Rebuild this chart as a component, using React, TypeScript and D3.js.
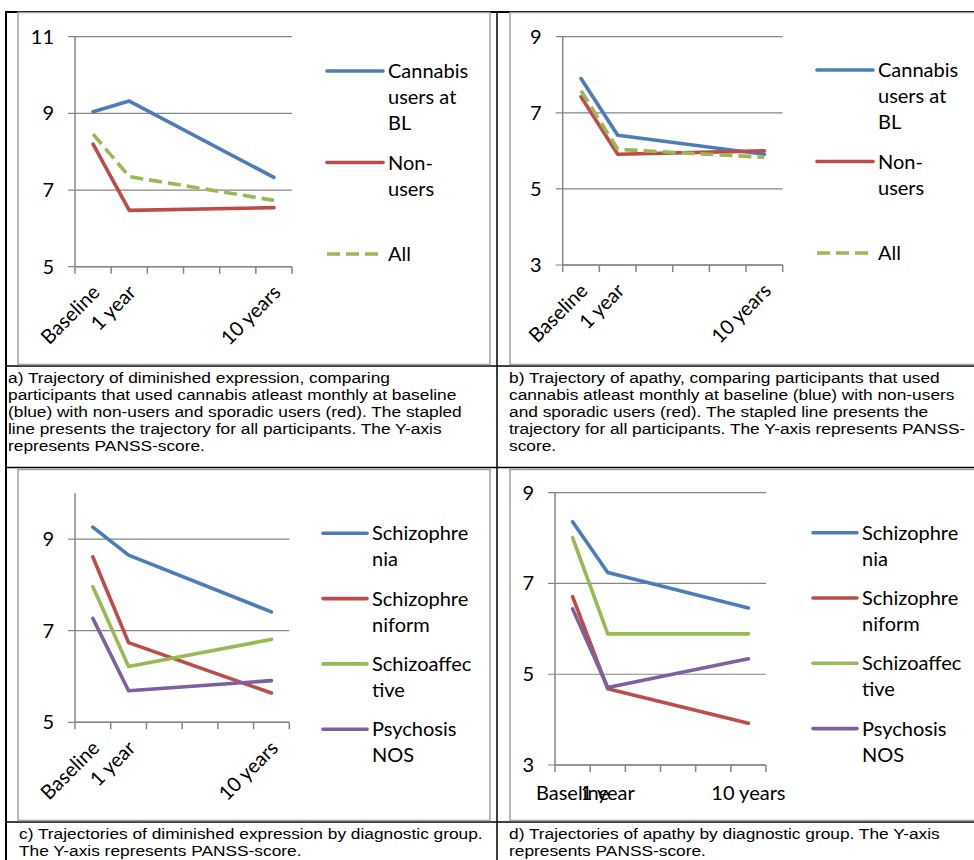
import React from 'react';
import * as d3 from 'd3';

// category slots on the x axis (Excel leaves the middle years empty)
const periods = ['Baseline', '1 year', '', '', '', '10 years'];

// a) diminished expression, cannabis users vs non-users
const cannabisExpression = [9.04, 9.32, null, null, null, 7.33];
const nonUsersExpression = [8.2, 6.47, null, null, null, 6.54];
const allExpression = [8.46, 7.35, null, null, null, 6.73];

// b) apathy, cannabis users vs non-users
const cannabisApathy = [7.9, 6.41, null, null, null, 5.91];
const nonUsersApathy = [7.42, 5.91, null, null, null, 6.0];
const allApathy = [7.58, 6.04, null, null, null, 5.83];

// c) diminished expression by diagnostic group
const schizophreniaExpression = [9.26, 8.65, null, null, null, 7.41];
const schizophreniformExpression = [8.61, 6.74, null, null, null, 5.64];
const schizoaffectiveExpression = [7.96, 6.22, null, null, null, 6.81];
const nosExpression = [7.27, 5.69, null, null, null, 5.91];

// d) apathy by diagnostic group
const schizophreniaApathy = [8.36, 7.24, null, null, null, 6.46];
const schizophreniformApathy = [6.71, 4.68, null, null, null, 3.92];
const schizoaffectiveApathy = [8.01, 5.89, null, null, null, 5.89];
const nosApathy = [6.44, 4.71, null, null, null, 5.34];

// legend labels, wrapped like in the original
const cannabisLabels = [['Cannabis', 'users at', 'BL'], ['Non-', 'users'], ['All']];
const diagnosisLabels = [['Schizophre', 'nia'], ['Schizophre', 'niform'], ['Schizoaffec', 'tive'], ['Psychosis', 'NOS']];

const ticksA = [5, 7, 9, 11];
const ticksB = [3, 5, 7, 9];
const ticksC = [5, 7, 9];
const ticksD = [3, 5, 7, 9];

const captionA = [
  'a) Trajectory of diminished expression, comparing',
  'participants that used cannabis atleast monthly at baseline',
  '(blue) with non-users and sporadic users (red). The stapled',
  'line presents the trajectory for all participants. The Y-axis',
  'represents PANSS-score.',
];
const captionB = [
  'b) Trajectory of apathy, comparing participants that used',
  'cannabis atleast monthly at baseline (blue) with non-users',
  'and sporadic users (red). The stapled line presents the',
  'trajectory for all participants. The Y-axis represents PANSS-',
  'score.',
];
const captionC = ['c) Trajectories of diminished expression by diagnostic group.', 'The Y-axis represents PANSS-score.'];
const captionD = ['d) Trajectories of apathy by diagnostic group. The Y-axis', 'represents PANSS-score.'];

const BLUE = '#4a7ebb';
const RED = '#be4b48';
const GREEN = '#98b954';
const PURPLE = '#7d60a0';
const GRID = '#868686';
const CHART_FONT = 'Lato, "Open Sans", sans-serif';
const CAPTION_FONT = '"Liberation Sans", Arial, sans-serif';

type Series = { values: (number | null)[]; color: string; label: string[]; dashed?: boolean };

type ChartProps = {
  frame: [number, number, number, number];
  plot: { left: number; right: number; top: number; bottom: number };
  domain: [number, number];
  ticks: number[];
  series: Series[];
  legend: { x: number; y: number; step: number; len: number };
  rotated: boolean;
};

function LineChart({ frame, plot, domain, ticks, series, legend, rotated }: ChartProps) {
  const x = d3.scaleBand<number>().domain(d3.range(periods.length)).range([plot.left, plot.right]);
  const y = d3.scaleLinear().domain(domain).range([plot.bottom, plot.top]);
  const cx = (i: number) => (x(i) as number) + x.bandwidth() / 2;
  const line = d3.line<[number, number]>().x(d => cx(d[0])).y(d => y(d[1]));

  return (
    <g>
      <rect x={frame[0]} y={frame[1]} width={frame[2]} height={frame[3]} fill="#fff" stroke="#a0a0a0" strokeWidth={1.5} />

      {/* gridlines + y labels */}
      {ticks.map(t => (
        <g key={t}>
          <line x1={plot.left - 7} x2={plot.right} y1={y(t)} y2={y(t)} stroke={GRID} strokeWidth={1.2} />
          <text x={plot.left - 21} y={y(t)} dy="0.35em" textAnchor="end" fontFamily={CHART_FONT} fontSize={20}>{t}</text>
        </g>
      ))}
      <line x1={plot.left} x2={plot.left} y1={y(domain[1])} y2={y(domain[0])} stroke={GRID} strokeWidth={1.5} />
      <line x1={plot.left} x2={plot.right} y1={y(domain[0])} y2={y(domain[0])} stroke={GRID} strokeWidth={1.5} />
      {d3.range(periods.length + 1).map(i => {
        const xx = plot.left + i * x.step();
        return <line key={i} x1={xx} x2={xx} y1={plot.bottom} y2={plot.bottom + 7} stroke={GRID} strokeWidth={1.5} />;
      })}

      {/* x labels */}
      {periods.map((p, i) => p && (rotated ? (
        <text key={i} transform={`translate(${cx(i) + 3},${plot.bottom + 22}) rotate(-45)`} dy="0.35em"
          textAnchor="end" fontFamily={CHART_FONT} fontSize={20}>{p}</text>
      ) : (
        <text key={i} x={cx(i)} y={plot.bottom + 28} dy="0.35em" textAnchor="middle" fontFamily={CHART_FONT} fontSize={20}>{p}</text>
      )))}

      {/* series */}
      {series.map((s, k) => {
        const pts = s.values.map((v, i) => [i, v] as [number, number | null]).filter(d => d[1] != null) as [number, number][];
        return (
          <path key={k} d={line(pts) || ''} fill="none" stroke={s.color} strokeWidth={3.6}
            strokeLinejoin="round" strokeLinecap={s.dashed ? 'butt' : 'round'} strokeDasharray={s.dashed ? '13 6' : undefined} />
        );
      })}

      {/* legend */}
      {series.map((s, k) => {
        const ly = legend.y + k * legend.step;
        return (
          <g key={k}>
            <line x1={legend.x} x2={legend.x + legend.len} y1={ly} y2={ly} stroke={s.color} strokeWidth={3.6}
              strokeLinecap={s.dashed ? 'butt' : 'round'} strokeDasharray={s.dashed ? '13 6' : undefined} />
            {s.label.map((t, j) => (
              <text key={j} x={legend.x + legend.len + 5} y={ly + j * 26} dy="0.35em" fontFamily={CHART_FONT} fontSize={20}>{t}</text>
            ))}
          </g>
        );
      })}
    </g>
  );
}

// captions: Arial-ish at 15px, stretched a little wider like the scanned figure
function Caption({ x, y, lines }: { x: number; y: number; lines: string[] }) {
  return (
    <g transform={`translate(${x},${y}) scale(1.155,1)`}>
      {lines.map((l, i) => (
        <text key={i} x={0} y={i * 17} fontFamily={CAPTION_FONT} fontSize={15}>{l}</text>
      ))}
    </g>
  );
}

export default function App() {
  const cannabisSeries = (vals: (number | null)[][]): Series[] => [
    { values: vals[0], color: BLUE, label: cannabisLabels[0] },
    { values: vals[1], color: RED, label: cannabisLabels[1] },
    { values: vals[2], color: GREEN, label: cannabisLabels[2], dashed: true },
  ];
  const diagnosisSeries = (vals: (number | null)[][]): Series[] =>
    [BLUE, RED, GREEN, PURPLE].map((c, i) => ({ values: vals[i], color: c, label: diagnosisLabels[i] }));

  return (
    <svg width={974} height={860} style={{ position: 'absolute', left: 0, top: 0, background: '#fff' }}>
      {/* table rules */}
      <line x1={6} x2={974} y1={12} y2={12} stroke="#000" strokeWidth={2} />
      <line x1={6} x2={6} y1={11} y2={860} stroke="#000" strokeWidth={2} />
      <line x1={497} x2={497} y1={11} y2={860} stroke="#000" strokeWidth={1.5} />
      <line x1={6} x2={974} y1={366} y2={366} stroke="#000" strokeWidth={1.5} />
      <line x1={6} x2={974} y1={467.5} y2={467.5} stroke="#000" strokeWidth={1.5} />
      <line x1={6} x2={974} y1={822} y2={822} stroke="#000" strokeWidth={1.5} />

      <LineChart
        frame={[18, 12.5, 472, 352]}
        plot={{ left: 75, right: 292, top: 36.7, bottom: 266.7 }}
        domain={[5, 11]} ticks={ticksA}
        series={cannabisSeries([cannabisExpression, nonUsersExpression, allExpression])}
        legend={{ x: 327, y: 71, step: 91.5, len: 56 }} rotated
      />
      <LineChart
        frame={[510, 12.5, 470, 352]}
        plot={{ left: 562.7, right: 782.7, top: 36.7, bottom: 265 }}
        domain={[3, 9]} ticks={ticksB}
        series={cannabisSeries([cannabisApathy, nonUsersApathy, allApathy])}
        legend={{ x: 817, y: 70, step: 91.5, len: 56 }} rotated
      />
      <LineChart
        frame={[18, 469.5, 472, 351]}
        plot={{ left: 75, right: 289.3, top: 493.3, bottom: 722.3 }}
        domain={[5, 10]} ticks={ticksC}
        series={diagnosisSeries([schizophreniaExpression, schizophreniformExpression, schizoaffectiveExpression, nosExpression])}
        legend={{ x: 323, y: 533.3, step: 65.3, len: 44 }} rotated
      />
      <LineChart
        frame={[510, 469.5, 470, 351]}
        plot={{ left: 555, right: 766, top: 492.7, bottom: 765 }}
        domain={[3, 9]} ticks={ticksD}
        series={diagnosisSeries([schizophreniaApathy, schizophreniformApathy, schizoaffectiveApathy, nosApathy])}
        legend={{ x: 813, y: 532.7, step: 65.3, len: 44 }} rotated={false}
      />

      <Caption x={8} y={383} lines={captionA} />
      <Caption x={509} y={383} lines={captionB} />
      <Caption x={19} y={839} lines={captionC} />
      <Caption x={509} y={839} lines={captionD} />
    </svg>
  );
}
